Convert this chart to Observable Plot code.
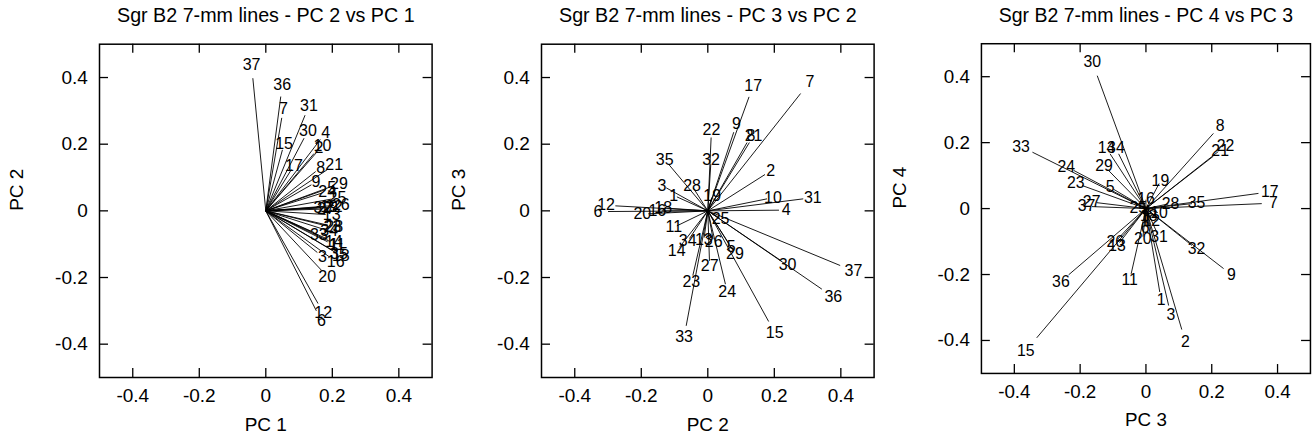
<!DOCTYPE html>
<html><head><meta charset="utf-8">
<script src="https://cdn.jsdelivr.net/npm/d3@7"></script>
<script src="https://cdn.jsdelivr.net/npm/@observablehq/plot@0.6"></script>
<style>
html,body{margin:0;padding:0;background:#fff;overflow:hidden;}
#wrap{position:relative;width:1314px;height:440px;overflow:hidden;}
.panel{position:absolute;top:0;}
</style></head><body><div id="wrap"></div>
<script>
const labels = ["1","2","3","4","5","6","7","8","9","10","11","12","13","14","15","16","17","18","19","20","21","22","23","24","25","26","27","28","29","30","31","32","33","34","35","36","37"];
const pc1 = [0.186,0.145,0.155,0.164,0.180,0.152,0.048,0.150,0.137,0.155,0.195,0.157,0.180,0.186,0.050,0.191,0.077,0.205,0.173,0.168,0.187,0.186,0.182,0.168,0.196,0.205,0.164,0.187,0.200,0.115,0.118,0.155,0.145,0.173,0.200,0.045,-0.039];
const pc2 = [-0.093,0.172,-0.125,0.214,0.064,-0.300,0.279,0.118,0.078,0.178,-0.093,-0.278,-0.011,-0.085,0.183,-0.138,0.124,-0.122,0.012,-0.179,0.125,0.010,-0.045,0.053,0.035,0.016,0.005,-0.043,0.074,0.218,0.287,0.009,-0.065,-0.055,-0.118,0.343,0.398];
const pc3 = [0.042,0.109,0.069,0.002,-0.099,-0.002,0.352,0.205,0.236,0.036,-0.045,0.015,-0.080,-0.109,-0.332,0.000,0.342,0.008,0.040,-0.009,0.205,0.220,-0.194,-0.220,-0.021,-0.085,-0.150,0.068,-0.116,-0.148,0.036,0.140,-0.345,-0.083,0.140,-0.235,-0.164];
const pc4 = [-0.253,-0.367,-0.294,-0.008,0.059,-0.053,0.015,0.228,-0.182,-0.012,-0.198,-0.035,-0.103,0.166,-0.392,0.027,0.046,-0.020,0.076,-0.085,0.159,0.173,0.070,0.116,0.002,-0.092,0.018,0.014,0.118,0.403,-0.078,-0.112,0.171,0.166,0.015,-0.201,0.006];
const titles = ["Sgr B2 7-mm lines - PC 2 vs PC 1","Sgr B2 7-mm lines - PC 3 vs PC 2","Sgr B2 7-mm lines - PC 4 vs PC 3"];
const axisNames = ["PC 1","PC 2","PC 3","PC 4"];
const tickValues = [-0.4,-0.2,0,0.2,0.4];
const tickLabels = ["-0.4","-0.2","0","0.2","0.4"];

const pcs = [pc1,pc2,pc3,pc4];
const W=436, H=440, ML=99, MR=4.4, MT=43.7, MB=63;
const FW = W-ML-MR, FH = H-MT-MB;
const lefts = [0, 441.7, 882.7];
const font = "'Liberation Sans', Arial, Helvetica, sans-serif";
const fmt = d => tickLabels[tickValues.indexOf(d)];
const wrap = document.getElementById("wrap");
for (let p=0;p<3;p++){
  const xs = pcs[p], ys = pcs[p+1];
  const data = labels.map((l,i)=>({label:l, x:xs[i], y:ys[i]}));
  const chart = Plot.plot({
    width:W, height:H, marginLeft:ML, marginRight:MR, marginTop:MT, marginBottom:MB,
    style:{fontFamily:font, fontSize:"19px", color:"#000", background:"#fff", overflow:"visible"},
    x:{domain:[-0.5,0.5], label:null},
    y:{domain:[-0.5,0.5], label:null},
    marks:[
      Plot.link(data,{x1:0,y1:0,x2:"x",y2:"y",stroke:"#000",strokeWidth:0.9}),
      Plot.text(data,{x:d=>d.x*1.1,y:d=>d.y*1.1,text:"label",fontSize:16,lineAnchor:"middle",fill:"#000"}),
      Plot.tickX(tickValues,{x:d=>d,insetTop:FH-9,stroke:"#000",strokeWidth:1.3}),
      Plot.tickX(tickValues,{x:d=>d,insetBottom:FH-9,stroke:"#000",strokeWidth:1.3}),
      Plot.tickY(tickValues,{y:d=>d,insetRight:FW-9,stroke:"#000",strokeWidth:1.3}),
      Plot.tickY(tickValues,{y:d=>d,insetLeft:FW-9,stroke:"#000",strokeWidth:1.3}),
      Plot.frame({stroke:"#000",strokeWidth:1.5}),
      Plot.axisX({ticks:tickValues,anchor:"bottom",tickSize:0,tickPadding:11,tickFormat:fmt,fontSize:19,label:null}),
      Plot.axisY({ticks:tickValues,anchor:"left",tickSize:0,tickPadding:11.7,tickFormat:fmt,fontSize:19,label:null}),
      Plot.text([titles[p]],{frameAnchor:"top",dy:21.3-MT,lineAnchor:"bottom",fontSize:19.7,text:d=>d,fill:"#000"}),
      Plot.text([axisNames[p]],{frameAnchor:"bottom",dy:430-(H-MB),lineAnchor:"bottom",fontSize:19,text:d=>d,fill:"#000"}),
      Plot.text([axisNames[p+1]],{frameAnchor:"left",dx:16.7-ML,rotate:-90,lineAnchor:"middle",fontSize:19,text:d=>d,fill:"#000"})
    ]
  });
  const div = document.createElement("div");
  div.className="panel";
  div.style.left = lefts[p]+"px";
  div.appendChild(chart);
  wrap.appendChild(div);
}
</script></body></html>
